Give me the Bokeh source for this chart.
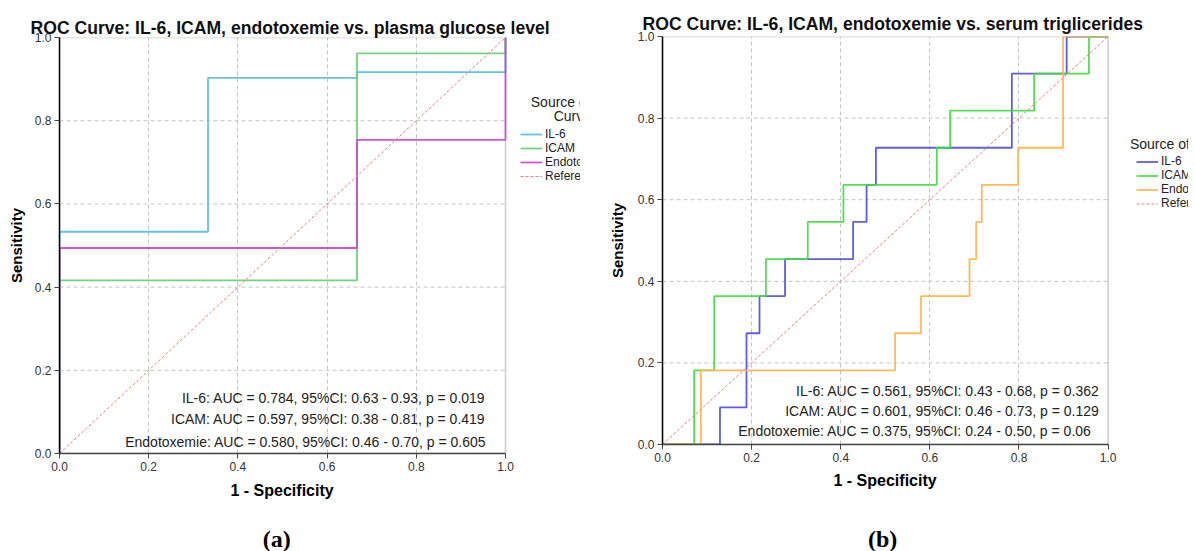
from bokeh.plotting import figure
from bokeh.layouts import row, column
from bokeh.models import (Range1d, FixedTicker, Legend, LegendItem, BoxAnnotation,
                          PrintfTickFormatter, Title)
from bokeh.core.properties import value
from bokeh.embed import file_html
from bokeh.resources import INLINE

# ---- data -------------------------------------------------------------
series = ["IL-6", "ICAM", "Endotoxemie", "Reference Line"]
ticks = [0.0, 0.2, 0.4, 0.6, 0.8, 1.0]

# (a) plasma glucose level: ROC step vertices (1 - specificity, sensitivity)
glu_il6_fpr = [0.0, 0.0, 0.333, 0.667, 1.0]
glu_il6_tpr = [0.0, 0.533, 0.903, 0.917, 1.0]
glu_icam_fpr = [0.0, 0.0, 0.667, 1.0]
glu_icam_tpr = [0.0, 0.416, 0.962, 1.0]
glu_endo_fpr = [0.0, 0.0, 0.667, 1.0]
glu_endo_tpr = [0.0, 0.494, 0.754, 1.0]
glu_stats = [
    "IL-6: AUC = 0.784, 95%CI: 0.63 - 0.93, p = 0.019",
    "ICAM: AUC = 0.597, 95%CI: 0.38 - 0.81, p = 0.419",
    "Endotoxemie: AUC = 0.580, 95%CI: 0.46 - 0.70, p = 0.605",
]

# (b) serum triglycerides
tg_il6_fpr = [0.0, 0.129, 0.1885, 0.2177, 0.275, 0.4278, 0.458, 0.479, 0.784, 0.907, 1.0]
tg_il6_tpr = [0.0, 0.0909, 0.2727, 0.3636, 0.4545, 0.5455, 0.6364, 0.7273, 0.9091, 1.0, 1.0]
tg_icam_fpr = [0.0, 0.071, 0.116, 0.232, 0.326, 0.406, 0.6156, 0.6455, 0.834, 0.957, 1.0]
tg_icam_tpr = [0.0, 0.1818, 0.3636, 0.4545, 0.5455, 0.6364, 0.7273, 0.8182, 0.9091, 1.0, 1.0]
tg_endo_fpr = [0.0, 0.086, 0.522, 0.580, 0.689, 0.704, 0.7166, 0.798, 0.899, 1.0]
tg_endo_tpr = [0.0, 0.1818, 0.2727, 0.3636, 0.4545, 0.5455, 0.6364, 0.7273, 1.0, 1.0]
tg_stats = [
    "IL-6: AUC = 0.561, 95%CI: 0.43 - 0.68, p = 0.362",
    "ICAM: AUC = 0.601, 95%CI: 0.46 - 0.73, p = 0.129",
    "Endotoxemie: AUC = 0.375, 95%CI: 0.24 - 0.50, p = 0.06",
]

captions = ["(a)", "(b)"]

FONT = "Liberation Sans"
PANEL_H = 510
CAPTION_H = 41


def roc_panel(title, curves, colors, stats, stat_x, stat_y, width, borders, x_max,
              title_offset, title_standoff, legend_loc, legend_row, legend_title,
              xlabel_offset, xlabel_standoff, ylabel_standoff):
    left, top, bottom = borders
    # the frame runs to the canvas edge so the legend area is part of it;
    # the unit square is outlined separately
    p = figure(width=width, height=PANEL_H, x_range=Range1d(0, x_max), y_range=Range1d(0, 1),
               output_backend="svg", toolbar_location=None,
               min_border_left=left, min_border_right=0,
               min_border_top=top, min_border_bottom=bottom,
               background_fill_color="white", border_fill_color="white")
    p.outline_line_color = None

    p.title.text = title
    p.title.align = "left"
    p.title.offset = title_offset
    p.title.standoff = title_standoff
    p.title.text_font = FONT
    p.title.text_font_size = "17.6px"
    p.title.text_font_style = "bold"
    p.title.text_color = "#111111"

    for ax in (p.xaxis, p.yaxis):
        ax.ticker = FixedTicker(ticks=ticks)
        ax.formatter = PrintfTickFormatter(format="%.1f")
        ax.bounds = (0, 1)
        ax.major_label_text_font = FONT
        ax.major_label_text_font_size = "12px"
        ax.major_label_text_color = "#333333"
        ax.major_label_standoff = 3
        ax.major_tick_in = 0
        ax.major_tick_out = 5
        ax.minor_tick_line_color = None
        ax.axis_line_width = 1.5
        ax.major_tick_line_color = "#444444"
    p.yaxis.axis_line_color = "#000000"
    p.xaxis.axis_line_color = "#444444"

    p.yaxis.axis_label = "Sensitivity"
    p.yaxis.axis_label_text_font = FONT
    p.yaxis.axis_label_text_font_size = "15px"
    p.yaxis.axis_label_text_font_style = "bold"
    p.yaxis.axis_label_text_color = "#000000"
    p.yaxis.axis_label_standoff = ylabel_standoff

    # x label sits under the unit square, not under the whole frame
    p.add_layout(Title(text="1 - Specificity", align="left", offset=xlabel_offset,
                       standoff=xlabel_standoff, text_font=FONT, text_font_size="16px",
                       text_font_style="bold", text_color="#000000"), "below")

    # dashed grid inside the unit square
    p.xgrid.ticker = FixedTicker(ticks=ticks[1:-1])
    p.xgrid.grid_line_color = "#c4c4c4"
    p.xgrid.grid_line_dash = "4 3"
    p.ygrid.visible = False
    inner = ticks[1:-1]
    p.segment(x0=[0] * len(inner), x1=[1] * len(inner), y0=inner, y1=inner,
              line_color="#c4c4c4", line_dash="4 3", line_width=1)

    p.add_layout(BoxAnnotation(left=0, right=1, bottom=0, top=1, fill_alpha=0,
                               line_color="#555555", line_width=1.5, level="underlay"))

    renderers = []
    for (fpr, tpr), col in zip(curves, colors):
        r = p.step(fpr, tpr, mode="after", line_color=col, line_width=1.8, line_alpha=0.9)
        renderers.append(r)
    ref = p.line([0, 1], [0, 1], line_color="#F27C7C", line_dash="3 2", line_width=1)
    renderers.append(ref)

    p.text(x=stat_x, y=stat_y, text=stats, text_align="right", text_baseline="middle",
           text_font=value(FONT), text_font_size="14px", text_color="#222222")

    items = [LegendItem(label=l, renderers=[r]) for l, r in zip(series, renderers)]
    leg = Legend(items=items, location=legend_loc, border_line_color=None,
                 background_fill_alpha=0, padding=0, margin=0, spacing=0,
                 glyph_width=22, glyph_height=legend_row, label_height=legend_row,
                 label_standoff=3, label_text_font=FONT, label_text_font_size="12px",
                 label_text_color="#222222")
    p.add_layout(leg)

    tx, ty, lines, align = legend_title
    p.text(x=[tx] * len(lines), y=ty, text=lines, text_align=align, text_baseline="middle",
           text_font=value(FONT), text_font_size="14px", text_color="#222222")
    return p


def caption_strip(text, width, left, x_max, cx):
    c = figure(width=width, height=CAPTION_H, x_range=Range1d(0, x_max), y_range=Range1d(0, 1),
               output_backend="svg", toolbar_location=None, x_axis_type=None, y_axis_type=None,
               min_border_left=left, min_border_right=0, min_border_top=0, min_border_bottom=0,
               border_fill_color="white")
    c.outline_line_color = None
    c.text(x=[cx], y=[0.3], text=[text], text_align="center", text_baseline="middle",
           text_font=value("Liberation Serif"), text_font_size="24px",
           text_font_style="bold", text_color="#000000")
    return c


pa = roc_panel(
    "ROC Curve: IL-6, ICAM, endotoxemie vs. plasma glucose level",
    [(glu_il6_fpr, glu_il6_tpr), (glu_icam_fpr, glu_icam_tpr), (glu_endo_fpr, glu_endo_tpr)],
    ["#55B9EA", "#66CC77", "#CC44CC"],
    glu_stats, [0.955, 0.955, 0.957], [0.1346, 0.0841, 0.0288],
    580, (59, 37, PANEL_H - 453), (580 - 59) / 446, -29, 0, (461, 270), 14,
    (1.150, [0.844, 0.8125], ["Source of the", "Curve"], "center"),
    171, 12, 7,
)
ca = caption_strip(captions[0], 580, 59, (580 - 59) / 446, 0.487)

pb = roc_panel(
    "ROC Curve: IL-6, ICAM, endotoxemie vs. serum triglicerides",
    [(tg_il6_fpr, tg_il6_tpr), (tg_icam_fpr, tg_icam_tpr), (tg_endo_fpr, tg_endo_tpr)],
    ["#4B4BE0", "#3FDD3F", "#FFB347"],
    tg_stats, [0.981, 0.981, 0.963], [0.131, 0.0817, 0.0326],
    608, (82, 36, PANEL_H - 444), (608 - 82) / 445.6, -20, 6, (474, 234), 13,
    (1.049, [0.737], ["Source of the Curve"], "left"),
    171, 10, 9,
)
cb = caption_strip(captions[1], 608, 82, (608 - 82) / 445.6, 0.494)

layout = row(column(pa, ca), column(pb, cb))
open("out.html", "w").write(file_html(layout, INLINE))
